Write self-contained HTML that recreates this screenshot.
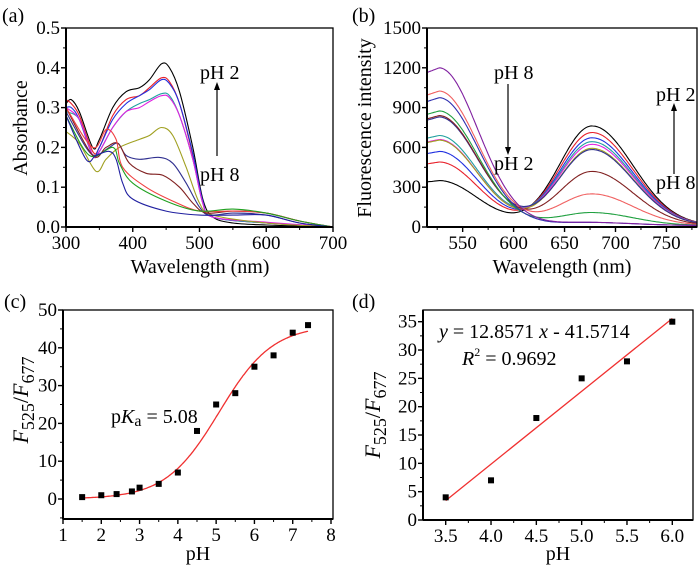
<!DOCTYPE html>
<html><head><meta charset="utf-8"><style>
html,body{margin:0;padding:0;background:#fff}
svg{display:block;font-family:"Liberation Serif","Times New Roman",serif}
svg text{font-family:"Liberation Serif","Times New Roman",serif}
</style></head><body>
<svg id="fig" width="700" height="571" viewBox="0 0 700 571" font-family="Liberation Serif, serif"></svg>
<script>
// ---- Panel (a) data: absorbance curves [wavelength, absorbance] ----
const absColors = ["#000000","#e8202a","#2030e0","#20a0a0","#e020e0","#a0a020","#303090","#802020","#f04040","#20a020","#2020a0"];
const absBlack = [[300,.31],[308,.32],[320,.29],[340,.2],[350,.22],[370,.3],[390,.34],[410,.35],[425,.37],[443,.41],[455,.4],[470,.34],[490,.2],[505,.07],[520,.025],[550,.01],[600,.005],[650,.002],[700,0]];
const absRed = [[300,.32],[308,.31],[320,.28],[340,.19],[350,.2],[370,.28],[390,.32],[410,.33],[425,.35],[443,.375],[455,.365],[470,.31],[490,.18],[505,.06],[520,.025],[600,.01],[700,0]];
const absBlue = [[300,.3],[308,.3],[320,.27],[340,.18],[350,.2],[370,.27],[390,.31],[410,.33],[425,.345],[443,.37],[455,.36],[470,.31],[490,.185],[505,.065],[520,.025],[600,.01],[700,0]];
const absCyan = [[300,.29],[320,.27],[340,.18],[350,.19],[370,.25],[390,.29],[410,.31],[425,.32],[443,.335],[455,.33],[470,.28],[490,.17],[505,.06],[520,.025],[600,.01],[700,0]];
const absMagenta = [[300,.3],[320,.27],[340,.18],[350,.19],[370,.25],[390,.29],[410,.3],[425,.315],[443,.33],[455,.325],[470,.28],[490,.17],[505,.06],[520,.025],[600,.012],[700,0]];
const absOlive = [[300,.24],[320,.21],[345,.14],[360,.17],[380,.2],[410,.22],[425,.23],[443,.25],[460,.23],[480,.15],[500,.06],[520,.03],[600,.01],[700,0]];
const absNavy = [[300,.29],[330,.2],[345,.18],[365,.2],[378,.21],[390,.18],[410,.17],[440,.175],[460,.16],[480,.11],[500,.05],[515,.03],[550,.035],[600,.03],[650,.01],[700,0]];
const absBrown = [[300,.3],[340,.18],[360,.2],[378,.21],[395,.16],[420,.135],[445,.13],[470,.1],[490,.06],[510,.035],[550,.04],[600,.035],[650,.015],[700,0]];
const absPink = [[300,.3],[340,.2],[360,.245],[375,.22],[385,.15],[420,.1],[460,.065],[500,.04],[550,.04],[600,.035],[650,.015],[700,0]];
const absGreen = [[300,.28],[335,.18],[370,.2],[380,.16],[400,.11],[450,.065],[500,.04],[550,.045],[600,.035],[650,.015],[700,0]];
const absDkBlue = [[300,.28],[330,.17],[345,.18],[365,.19],[375,.17],[385,.11],[400,.07],[450,.04],[500,.03],[550,.03],[600,.03],[650,.01],[700,0]];
const absSeries = [absBlack,absRed,absBlue,absCyan,absMagenta,absOlive,absNavy,absBrown,absPink,absGreen,absDkBlue];

// ---- Panel (b) data: band intensities ----
const flColors = ["#000000","#e8202a","#2030e0","#20a0a0","#e020e0","#a0a020","#303090","#802020","#f06060","#20a040","#3030b0","#8020a0"];
const flLeftPeak = [340,480,560,680,650,645,820,830,1015,865,965,1190];
const flRightPeak = [750,700,660,630,610,580,570,405,235,95,20,20];

// ---- Panel (c) data ----
const cPH = [1.5,2,2.4,2.8,3,3.5,4,4.5,5,5.5,6,6.5,7,7.4];
const cRatio = [0.5,1,1.3,2,3,4,7,18,25,28,35,38,44,46];
// ---- Panel (d) data ----
const dPH = [3.5,4,4.5,5,5.5,6];
const dRatio = [4,7,18,25,28,35];
const dSlope = 12.8571, dIntercept = -41.5714;

const NS="http://www.w3.org/2000/svg";
const svg=document.getElementById('fig');
const FF='Liberation Serif, Times New Roman, serif';
function el(tag,attrs,parent){const e=document.createElementNS(NS,tag);for(const k in attrs)e.setAttribute(k,attrs[k]);(parent||svg).appendChild(e);return e;}
function txt(s,attrs,parent){attrs['font-family']=FF;const t=el('text',attrs,parent);t.textContent=s;return t;}
function smooth(pts){let d='M'+pts[0][0].toFixed(1)+','+pts[0][1].toFixed(1);
 for(let i=0;i<pts.length-1;i++){const p0=pts[Math.max(0,i-1)],p1=pts[i],p2=pts[i+1],p3=pts[Math.min(pts.length-1,i+2)];
  const c1=[p1[0]+(p2[0]-p0[0])/6,p1[1]+(p2[1]-p0[1])/6],c2=[p2[0]-(p3[0]-p1[0])/6,p2[1]-(p3[1]-p1[1])/6];
  d+='C'+c1[0].toFixed(1)+','+c1[1].toFixed(1)+' '+c2[0].toFixed(1)+','+c2[1].toFixed(1)+' '+p2[0].toFixed(1)+','+p2[1].toFixed(1);}
 return d;}
function axes(g,L,R,T,B,xs,xmaj,xmin,xlab,ys,ymaj,ymin,ylab){
 el('rect',{x:L,y:T,width:R-L,height:B-T,fill:'none',stroke:'#000','stroke-width':1.3},g);
 el('line',{x1:L,x2:R,y1:B,y2:B,stroke:'#000','stroke-width':2},g);
 el('line',{x1:L,x2:L,y1:T,y2:B,stroke:'#000','stroke-width':2},g);
 xmin.forEach(v=>el('line',{x1:xs(v),x2:xs(v),y1:B,y2:B+3,stroke:'#000','stroke-width':1},g));
 xmaj.forEach((v,i)=>{el('line',{x1:xs(v),x2:xs(v),y1:B,y2:B+5,stroke:'#000','stroke-width':1.4},g);
  const t=txt(xlab[i],{x:xs(v),y:B+22,'text-anchor':'middle','font-size':19},g);});
 ymin.forEach(v=>el('line',{x1:L,x2:L-3,y1:ys(v),y2:ys(v),stroke:'#000','stroke-width':1},g));
 ymaj.forEach((v,i)=>{el('line',{x1:L,x2:L-5,y1:ys(v),y2:ys(v),stroke:'#000','stroke-width':1.4},g);
  const t=txt(ylab[i],{x:L-6,y:ys(v)+6,'text-anchor':'end','font-size':19},g);});
}
function range(a,b,s){const r=[];for(let v=a;v<=b+1e-9;v+=s)r.push(+v.toFixed(4));return r;}
function rich(html,attrs,g){attrs['font-family']=FF;const t=el('text',attrs,g);t.innerHTML=html;return t;}

// ===== Panel A =====
{const g=el('g',{});
 const L=66,R=333,T=28,B=227;const xs=v=>L+(v-300)/400*(R-L),ys=v=>B-v/0.5*(B-T);
 absSeries.forEach((s,i)=>{const p=el('path',{d:smooth(s.map(q=>[xs(q[0]),ys(q[1])])),fill:'none',stroke:absColors[i],'stroke-width':1.1},g);
  });
 const xm=range(300,700,100);const ym=range(0,0.5,0.1);
 axes(g,L,R,T,B,xs,xm,range(350,650,100),xm.map(String),ys,ym,range(0.05,0.45,0.1),ym.map(v=>v.toFixed(1)));
 txt('(a)',{x:2,y:22,'font-size':20},g);
 const yl=txt('Absorbance',{x:0,y:0,'font-size':20,'text-anchor':'middle',transform:'translate(27,128) rotate(-90)'},g);
 const xl=txt('Wavelength (nm)',{x:200,y:273,'font-size':20,'text-anchor':'middle'},g);
 txt('pH 2',{x:200,y:79,'font-size':20},g);
 txt('pH 8',{x:200,y:181,'font-size':20},g);
 el('line',{x1:217,x2:217,y1:156,y2:90,stroke:'#000','stroke-width':1.2},g);
 el('path',{d:'M214,90 L217,82 L220,90Z',fill:'#000'},g);
}
// ===== Panel B =====
{const g=el('g',{});
 const L=427,R=697,T=28,B=227;const xs=v=>L+(v-515)/265*(R-L),ys=v=>B-v/1500*(B-T);
 const band1=x=>x<527?0.97+0.03*(x-515)/12:Math.exp(-Math.pow(x-527,2)/2888)*0.98+0.02*Math.exp(-(x-527)/100);
 const band2=x=>x<677?Math.exp(-Math.pow(x-677,2)/2048):Math.exp(-Math.pow(x-677,2)/3200);
 flLeftPeak.forEach((lp,i)=>{const pts=[];for(let x=515;x<=780;x+=2.5){pts.push([xs(x),ys(lp*band1(x)+flRightPeak[i]*band2(x)+10)]);}
  const p=el('path',{d:smooth(pts),fill:'none',stroke:flColors[i],'stroke-width':1.1},g);
  });
 const xm=range(550,750,50);const ym=range(0,1500,300);
 axes(g,L,R,T,B,xs,xm,range(525,775,50),xm.map(String),ys,ym,range(150,1350,300),ym.map(String));
 txt('(b)',{x:352,y:22,'font-size':20},g);
 const yl=txt('Fluorescence intensity',{x:0,y:0,'font-size':20,'text-anchor':'middle',transform:'translate(371,128) rotate(-90)'},g);
 const xl=txt('Wavelength (nm)',{x:562,y:273,'font-size':20,'text-anchor':'middle'},g);
 txt('pH 8',{x:494,y:79,'font-size':20},g);
 txt('pH 2',{x:494,y:170,'font-size':20},g);
 el('line',{x1:508,x2:508,y1:84,y2:147,stroke:'#000','stroke-width':1.2},g);
 el('path',{d:'M505,147 L508,155 L511,147Z',fill:'#000'},g);
 txt('pH 2',{x:656,y:101,'font-size':20},g);
 txt('pH 8',{x:656,y:189,'font-size':20},g);
 el('line',{x1:674,x2:674,y1:174,y2:111,stroke:'#000','stroke-width':1.2},g);
 el('path',{d:'M671,111 L674,103 L677,111Z',fill:'#000'},g);
}
// ===== Panel C =====
{const g=el('g',{});
 const L=63,R=333,T=310,B=519;const xs=v=>L+(v-1)/7*(331-63),ys=v=>499-v/50*(499-310);
 const fit=x=>46-46/(1+Math.exp((x-5.08)/0.7));
 const pts=[];for(let x=1.5;x<=7.4;x+=0.05)pts.push([xs(x),ys(fit(x))]);
 const fl=el('path',{d:smooth(pts),fill:'none',stroke:'#f03030','stroke-width':1.3},g);
 cPH.forEach((p,i)=>{const r=el('rect',{x:xs(p)-3,y:ys(cRatio[i])-3,width:6,height:6,fill:'#000'},g);});
 const xm=range(1,8,1);const ym=range(0,50,10);
 axes(g,L,R,T,B,xs,xm,range(1.5,7.5,1),xm.map(String),ys,ym,range(-5,45,10),ym.map(String));
 txt('(c)',{x:4,y:308,'font-size':20},g);
 const yl=rich('<tspan font-style="italic">F</tspan><tspan font-size="18" dy="6">525</tspan><tspan dy="-6">/</tspan><tspan font-style="italic">F</tspan><tspan font-size="18" dy="6">677</tspan>',{'font-size':22,'text-anchor':'middle',transform:'translate(28,400) rotate(-90)'},g);
 
 const xl=txt('pH',{x:198,y:560,'font-size':20,'text-anchor':'middle'},g);
 const pk=rich('p<tspan font-style="italic">K</tspan><tspan font-size="16" dy="3">a</tspan><tspan dy="-3"> = 5.08</tspan>',{x:111,y:423,'font-size':20},g);
 
}
// ===== Panel D =====
{const g=el('g',{});
 const L=423,R=693,T=310,B=520;const xs=v=>445.7+(v-3.5)/2.5*(672.3-445.7),ys=v=>520-v/35*(520-321.7);
 const ln=el('line',{x1:xs(dPH[0]),y1:ys(dSlope*dPH[0]+dIntercept),x2:xs(dPH[dPH.length-1]),y2:ys(dSlope*dPH[dPH.length-1]+dIntercept),stroke:'#f03030','stroke-width':1.3},g);
 
 dPH.forEach((p,i)=>{const r=el('rect',{x:xs(p)-3,y:ys(dRatio[i])-3,width:6,height:6,fill:'#000'},g);});
 const xm=range(3.5,6,0.5);const ym=range(0,35,5);
 axes(g,L,R,T,B,xs,xm,range(3.25,6,0.5).filter(v=>v>3.26),xm.map(v=>v.toFixed(1)),ys,ym,range(2.5,32.5,5),ym.map(String));
 txt('(d)',{x:352,y:308,'font-size':20},g);
 const yl=rich('<tspan font-style="italic">F</tspan><tspan font-size="18" dy="6">525</tspan><tspan dy="-6">/</tspan><tspan font-style="italic">F</tspan><tspan font-size="18" dy="6">677</tspan>',{'font-size':22,'text-anchor':'middle',transform:'translate(380,415) rotate(-90)'},g);
 
 const xl=txt('pH',{x:558,y:560,'font-size':20,'text-anchor':'middle'},g);
 const eq=rich('<tspan font-style="italic">y</tspan> = 12.8571 <tspan font-style="italic">x</tspan> - 41.5714',{x:439,y:338,'font-size':20},g);
 
 const r2=rich('<tspan font-style="italic">R</tspan><tspan font-size="12" dy="-9">2</tspan><tspan dy="9"> = 0.9692</tspan>',{x:462,y:365,'font-size':20},g);
 
}
</script>
</body></html>
